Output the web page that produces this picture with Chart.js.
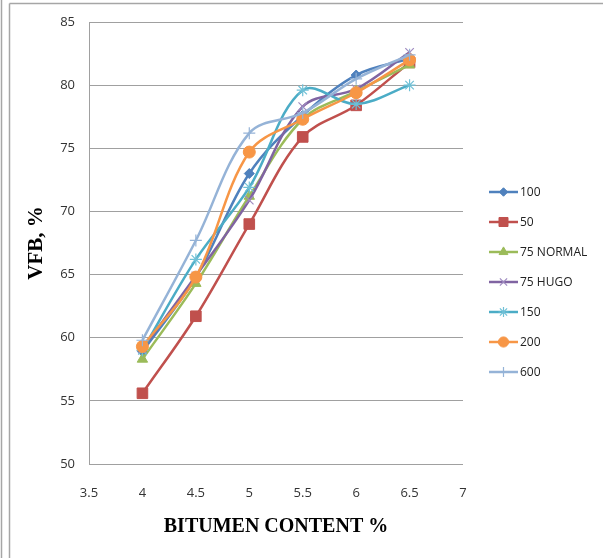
<!DOCTYPE html>
<html>
<head>
<meta charset="utf-8">
<script src="https://cdn.jsdelivr.net/npm/chart.js@4"></script>
<style>
html,body{margin:0;padding:0;background:#fff;}
#wrap{width:603px;height:558px;position:relative;}
</style>
</head>
<body>
<div id="wrap"><canvas id="c" width="603" height="558"></canvas></div>
<script>
// ---- data ----
const bitumenContent = [4, 4.5, 5, 5.5, 6, 6.5];
const seriesNames = ["100", "50", "75 NORMAL", "75 HUGO", "150", "200", "600"];
const vfb100     = [58.9, 64.8, 73.0, 77.6, 80.8, 82.1];
const vfb50      = [55.6, 61.7, 69.0, 75.9, 78.4, 81.8];
const vfb75Normal= [58.3, 64.3, 71.2, 77.3, 79.5, 81.6];
const vfb75Hugo  = [59.1, 64.9, 70.9, 78.3, 79.7, 82.6];
const vfb150     = [59.0, 66.2, 71.9, 79.6, 78.5, 80.0];
const vfb200     = [59.3, 64.8, 74.7, 77.3, 79.4, 82.0];
const vfb600     = [59.8, 67.7, 76.2, 77.8, 80.5, 82.4];
const xAxisTitle = "BITUMEN CONTENT %";
const yAxisTitle = "VFB, %";

// ---- styles ----
const seriesValues = [vfb100, vfb50, vfb75Normal, vfb75Hugo, vfb150, vfb200, vfb600];
const colors = ["#4F81BD", "#C0504D", "#9BBB59", "#8064A2", "#4BACC6", "#F79646", "#95B3D7"];
const markerColors = ["#4F81BD", "#C0504D", "#9BBB59", "#9F8BC0", "#6FC0D6", "#F79646", "#95B3D7"];
const pointStyles = ["rectRot", "rect", "triangle", "crossRot", "star", "circle", "cross"];
const pointRadii = [5, 7.5, 6, 6, 6, 6, 6];

const datasets = seriesNames.map((name, i) => ({
  label: name,
  data: bitumenContent.map((x, j) => ({x: x, y: seriesValues[i][j]})),
  borderColor: colors[i],
  backgroundColor: markerColors[i],
  pointBackgroundColor: markerColors[i],
  pointBorderColor: markerColors[i],
  pointBorderWidth: (pointStyles[i] === "crossRot" || pointStyles[i] === "star" || pointStyles[i] === "cross") ? 1.2 : 1,
  pointStyle: pointStyles[i],
  pointRadius: pointRadii[i],
  borderWidth: 2.5,
  tension: 0.35,
  fill: false,
  order: seriesNames.length - 1 - i
}));

const framePlugin = {
  id: 'frame',
  beforeDraw(chart) {
    const ctx = chart.ctx;
    ctx.save();
    ctx.fillStyle = '#fff';
    ctx.fillRect(0, 0, chart.width, chart.height);
    ctx.strokeStyle = '#a6a6a6';
    ctx.lineWidth = 1.5;
    ctx.beginPath();
    ctx.moveTo(1.5, 0); ctx.lineTo(1.5, chart.height);
    ctx.moveTo(9.5, 3.5); ctx.lineTo(9.5, chart.height);
    ctx.moveTo(9.5, 3.5); ctx.lineTo(chart.width, 3.5);
    ctx.stroke();
    ctx.restore();
  }
};

const legendPlugin = {
  id: 'lineLegend',
  afterDraw(chart) {
    const ctx = chart.ctx;
    const x0 = 489, x1 = 518, firstY = 192, step = 30;
    ctx.save();
    chart.data.datasets.forEach((ds, i) => {
      const y = firstY + i * step;
      ctx.strokeStyle = ds.borderColor;
      ctx.lineWidth = 2.5;
      ctx.beginPath();
      ctx.moveTo(x0, y); ctx.lineTo(x1, y);
      ctx.stroke();
      ctx.fillStyle = ds.pointBackgroundColor;
      ctx.strokeStyle = ds.pointBorderColor;
      ctx.lineWidth = ds.pointBorderWidth;
      Chart.helpers.drawPoint(ctx, {pointStyle: ds.pointStyle, rotation: 0, radius: ds.pointRadius * 0.85, borderWidth: ds.pointBorderWidth}, (x0 + x1) / 2, y);
      ctx.fillStyle = '#222';
      ctx.font = '12px "Open Sans"';
      ctx.textBaseline = 'middle';
      ctx.textAlign = 'left';
      ctx.fillText(ds.label, x1 + 2, y + 1);
    });
    ctx.restore();
  }
};

new Chart(document.getElementById('c'), {
  type: 'line',
  data: { datasets: datasets },
  options: {
    responsive: false,
    animation: false,
    devicePixelRatio: 1,
    layout: { padding: { left: 10, right: 140, top: 22, bottom: 0 } },
    plugins: { legend: { display: false }, tooltip: { enabled: false } },
    scales: {
      x: {
        type: 'linear',
        min: 3.5, max: 7,
        ticks: { stepSize: 0.5, padding: 21, color: '#333', font: { family: 'Open Sans', size: 13 },
                 callback: (v) => String(Math.round(v * 10) / 10) },
        grid: { display: false, drawTicks: false },
        border: { display: false },
        title: { display: true, text: xAxisTitle, color: '#000',
                 font: { family: 'Liberation Serif', size: 20, weight: 'bold' },
                 padding: { top: 0, bottom: 19 } },
        afterFit: (s) => { s.height = 94; }
      },
      y: {
        min: 50, max: 85,
        ticks: { stepSize: 5, padding: 14, color: '#333', font: { family: 'Open Sans', size: 13 } },
        grid: { color: '#a0a0a0', lineWidth: 1, drawTicks: false },
        border: { display: true, color: '#a0a0a0', width: 1 },
        title: { display: true, text: yAxisTitle, color: '#000',
                 font: { family: 'Liberation Serif', size: 21, weight: 'bold' },
                 padding: { top: 14, bottom: 0 } },
        afterFit: (s) => { s.width = 79; }
      }
    }
  },
  plugins: [framePlugin, legendPlugin]
});
</script>
</body>
</html>
